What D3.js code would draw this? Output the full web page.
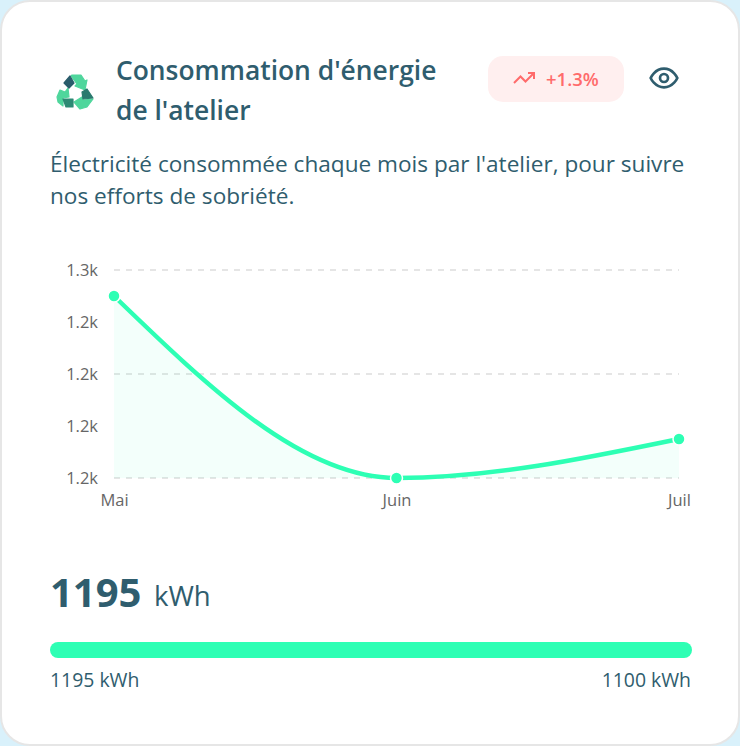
<!DOCTYPE html>
<html><head><meta charset="utf-8">
<script src="https://cdn.jsdelivr.net/npm/d3@7"></script>
<style>
html,body{margin:0;padding:0;background:#d9f1fb;overflow:hidden}
svg{display:block}
text{font-family:"Open Sans","Noto Sans",sans-serif}
</style></head><body>
<svg id="c" width="740" height="746"></svg>
<script>
const months = ["Mai","Juin","Juil"];
const consumption = [1250,1180,1195];
const yTicks = [1180,1200,1220,1240,1260];
const gridTicks = [1180,1220,1260];
const titleLines = ["Consommation d'énergie","de l'atelier"];
const subtitleLines = ["Électricité consommée chaque mois par l'atelier, pour suivre","nos efforts de sobriété."];
const badgeText = "+1.3%";
const currentValue = "1195";
const unit = "kWh";
const progressLabels = ["1195 kWh","1100 kWh"];

const DARK="#2f5d6e", GREEN="#2dffb4", GREY="#666666";
const svg=d3.select("#c");
svg.append("rect").attr("x",1).attr("y",1).attr("width",738).attr("height",744).attr("rx",29)
  .attr("fill","#fff").attr("stroke","#e6e6e6").attr("stroke-width",2);

// recycle icon
const ic=svg.append("g").attr("stroke-linejoin","round");
[
 ["M72,75L81,75L85,81L87,80L85,90L75,86L77,84L71,76Z","#4fd69c"],
 ["M93,99L87,107L80,109L74,102L82,97L83,100Z","#4fd69c"],
 ["M68,88L69,97L63,98L63,106L58,102L57,97L60,90L65,92Z","#4fd69c"],
 ["M70,76L74,83L69,88L64,83Z","#2a5c6b"],
 ["M87,89L93,98L83,99L82,92Z","#2a7a6e"],
 ["M63,99L73,99L73,107L66,107Z","#2d8a74"]
].forEach(([d,c])=>ic.append("path").attr("d",d).attr("fill",c).attr("stroke",c).attr("stroke-width",1.2));

// title
svg.append("g").selectAll("text").data(titleLines).join("text")
  .attr("x",116).attr("y",(d,i)=>80+i*40).attr("font-size",26.4).attr("font-weight",600).attr("fill",DARK).text(d=>d);
svg.append("g").selectAll("text").data(subtitleLines).join("text")
  .attr("x",50).attr("y",(d,i)=>172+i*32).attr("font-size",22.6).attr("fill",DARK).text(d=>d);

// badge
svg.append("rect").attr("x",488).attr("y",56).attr("width",136).attr("height",46).attr("rx",15).attr("fill","#ffefef");
const tr=svg.append("g").attr("transform","translate(512,66)").attr("fill","none").attr("stroke","#ff6b6b").attr("stroke-width",2);
tr.append("polyline").attr("points","22 7 13.5 15.5 8.5 10.5 2 17");
tr.append("polyline").attr("points","16 7 22 7 22 13");
svg.append("text").attr("x",546).attr("y",86).attr("font-size",18.5).attr("font-weight",600).attr("fill","#ff6b6b").text(badgeText);

// eye
const eye=svg.append("g").attr("transform","translate(648,62) scale(1.3333)").attr("fill","none").attr("stroke",DARK).attr("stroke-width",2);
eye.append("path").attr("d","M2 12s3-7 10-7 10 7 10 7-3 7-10 7-10-7-10-7Z");
eye.append("circle").attr("cx",12).attr("cy",12).attr("r",3);

// chart
const x=d3.scalePoint().domain(months).range([114,679]);
const y=d3.scaleLinear().domain([1180,1260]).range([478,270]);
const fmt=v=>(v/1000).toFixed(1)+"k";
const yAxis=d3.axisLeft(y).tickValues(yTicks).tickFormat(fmt).tickSize(0).tickPadding(16);
const ay=svg.append("g").attr("transform","translate(114,0)").call(yAxis);
ay.select(".domain").remove();
ay.selectAll("text").attr("font-size",16.5).attr("fill",GREY).style("font-family",'"Open Sans","Noto Sans",sans-serif');
const xAxis=d3.axisBottom(x).tickSize(0).tickPadding(16);
const ax=svg.append("g").attr("transform","translate(0,478)").call(xAxis);
ax.select(".domain").remove();
ax.selectAll("text").attr("font-size",16.5).attr("fill",GREY).style("font-family",'"Open Sans","Noto Sans",sans-serif');

svg.append("g").selectAll("line").data(gridTicks).join("line")
  .attr("x1",114).attr("x2",679).attr("y1",d=>y(d)).attr("y2",d=>y(d))
  .attr("stroke","#e5e5e5").attr("stroke-width",2).attr("stroke-dasharray","6 6");

const area=d3.area().x((d,i)=>x(months[i])).y0(y(1180)).y1(d=>y(d)).curve(d3.curveMonotoneX);
const line=d3.line().x((d,i)=>x(months[i])).y(d=>y(d)).curve(d3.curveMonotoneX);
svg.append("path").attr("d",area(consumption)).attr("fill",GREEN).attr("fill-opacity",0.06);
svg.append("path").attr("d",line(consumption)).attr("fill","none").attr("stroke",GREEN).attr("stroke-width",4.5);
svg.append("g").selectAll("circle").data(consumption).join("circle")
  .attr("cx",(d,i)=>x(months[i])).attr("cy",d=>y(d)).attr("r",6)
  .attr("fill",GREEN).attr("stroke","#fff").attr("stroke-width",1.5);

// value
svg.append("text").attr("x",50).attr("y",607).attr("font-size",40).attr("font-weight",700).attr("fill",DARK).text(currentValue);
svg.append("text").attr("x",154).attr("y",606).attr("font-size",27.5).attr("fill",DARK).text(unit);

// progress
svg.append("rect").attr("x",50).attr("y",642).attr("width",642).attr("height",16).attr("rx",8).attr("fill",GREEN);
svg.append("text").attr("x",50).attr("y",687).attr("font-size",19.4).attr("fill",DARK).text(progressLabels[0]);
svg.append("text").attr("x",691).attr("y",687).attr("text-anchor","end").attr("font-size",19.4).attr("fill",DARK).text(progressLabels[1]);
</script></body></html>
